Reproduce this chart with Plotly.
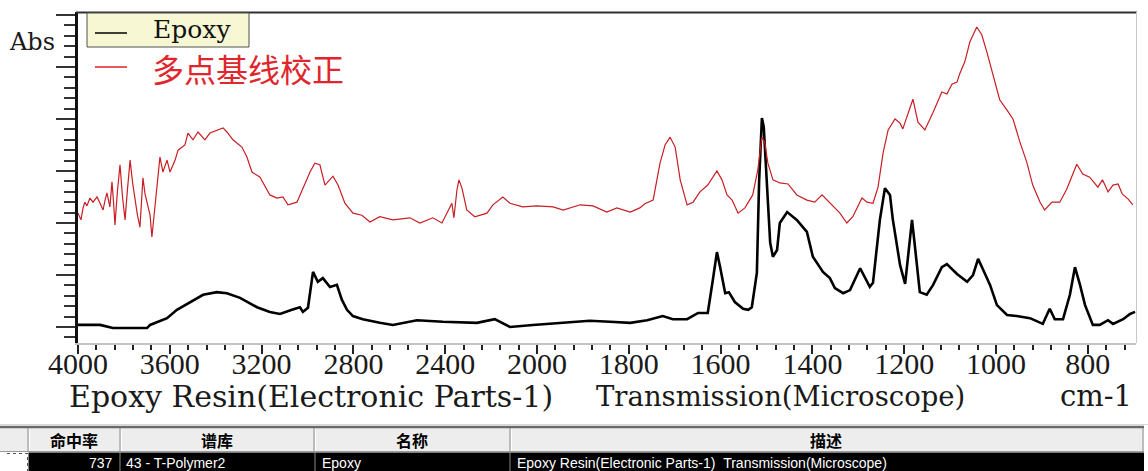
import plotly.graph_objects as go

# ---------------- data ----------------
epoxy_wn = [4000, 3904, 3848, 3699, 3686, 3612, 3569, 3512, 3455, 3395, 3351, 3294, 3220, 3164, 3120,
            3068, 3033, 3020, 2998, 2976, 2955, 2933, 2902, 2872, 2850, 2828, 2802, 2759, 2728, 2685,
            2628, 2523, 2410, 2262, 2184, 2118, 2018, 1950, 1885, 1841, 1797, 1760, 1732, 1726, 1704,
            1673, 1649, 1628, 1617, 1608, 1601, 1590, 1582, 1569, 1551, 1540, 1532, 1521, 1516, 1510,
            1506, 1499, 1492, 1486, 1477, 1471, 1455, 1434, 1412, 1399, 1377, 1362, 1351, 1333, 1318,
            1296, 1275, 1268, 1253, 1242, 1231, 1225, 1209, 1198, 1188, 1183, 1177, 1166, 1151, 1137,
            1118, 1107, 1085, 1063, 1050, 1039, 1029, 1013, 998, 976, 955, 926, 898, 883, 872,
            854, 839, 828, 817, 806, 789, 774, 756, 745, 723, 708, 697]
epoxy_abs = [0.004, 0.004, -0.002, -0.002, 0.004, 0.017, 0.033, 0.048, 0.062, 0.067, 0.065, 0.056, 0.038, 0.029, 0.025,
             0.033, 0.038, 0.029, 0.037, 0.106, 0.087, 0.094, 0.077, 0.081, 0.052, 0.033, 0.021, 0.015, 0.012, 0.008,
             0.004, 0.013, 0.010, 0.008, 0.015, 0.000, 0.004, 0.008, 0.012, 0.010, 0.008, 0.013, 0.019, 0.021, 0.015,
             0.015, 0.027, 0.027, 0.090, 0.144, 0.115, 0.065, 0.067, 0.048, 0.035, 0.033, 0.038, 0.104, 0.283, 0.402,
             0.385, 0.263, 0.162, 0.135, 0.148, 0.200, 0.221, 0.206, 0.183, 0.135, 0.106, 0.094, 0.075, 0.065, 0.071,
             0.113, 0.077, 0.085, 0.206, 0.267, 0.254, 0.208, 0.119, 0.083, 0.158, 0.206, 0.158, 0.067, 0.062, 0.081,
             0.115, 0.121, 0.102, 0.087, 0.100, 0.131, 0.112, 0.081, 0.042, 0.023, 0.021, 0.017, 0.006, 0.035, 0.015,
             0.015, 0.062, 0.115, 0.081, 0.042, 0.004, 0.004, 0.013, 0.006, 0.015, 0.025, 0.029]

corr_wn = [4000, 3987, 3978, 3970, 3961, 3948, 3935, 3926, 3917, 3904, 3891, 3882, 3874, 3861, 3852, 3845, 3839,
           3828, 3817, 3806, 3795, 3784, 3773, 3762, 3752, 3741, 3730, 3717, 3708, 3699, 3686, 3678, 3667, 3656,
           3643, 3630, 3612, 3599, 3577, 3564, 3534, 3521, 3499,
           3477, 3447, 3425, 3390, 3368, 3351, 3325, 3286, 3264, 3242, 3220, 3207, 3164, 3133, 3107,
           3085, 3046, 3020, 2989, 2968, 2946, 2924, 2889, 2867, 2837, 2802, 2763, 2728, 2685, 2628,
           2554, 2510, 2454, 2414, 2393, 2371, 2362, 2349, 2340, 2327, 2306, 2271, 2218, 2192, 2149,
           2118, 2062, 2000, 1965, 1943, 1906, 1878, 1848, 1826, 1797, 1776, 1765, 1747, 1732, 1721,
           1710, 1699, 1688, 1673, 1660, 1645, 1628, 1608, 1597, 1586, 1575, 1562, 1547, 1530, 1519,
           1510, 1504, 1497, 1486, 1471, 1453, 1434, 1412, 1395, 1379, 1362, 1340, 1325, 1312, 1292,
           1281, 1268, 1257, 1246, 1235, 1220, 1209, 1203, 1192, 1181, 1170, 1155, 1137, 1118, 1107,
           1096, 1085, 1079, 1068, 1057, 1042, 1031, 1020, 1007, 992, 976, 963, 948, 933, 920,
           904, 894, 878, 861, 846, 824, 811, 796, 778, 768, 756, 745, 734, 725, 712, 702]
corr_abs = [0.219, 0.206, 0.229, 0.240, 0.233, 0.248, 0.240, 0.246, 0.250, 0.238, 0.225, 0.244, 0.258, 0.231, 0.279,
            0.240, 0.196, 0.262, 0.312, 0.250, 0.206, 0.267, 0.321, 0.277, 0.244, 0.215, 0.192, 0.287, 0.256,
            0.238, 0.215, 0.173, 0.223, 0.277,
            0.327, 0.298, 0.321, 0.298, 0.321, 0.340, 0.350, 0.373, 0.360,
            0.375, 0.360, 0.373, 0.379, 0.383, 0.375, 0.360, 0.346, 0.327, 0.298, 0.292, 0.288, 0.254, 0.248, 0.250,
            0.235, 0.240, 0.267, 0.298, 0.315, 0.312, 0.273, 0.290, 0.273, 0.238, 0.219, 0.215, 0.202, 0.212, 0.206,
            0.210, 0.200, 0.210, 0.200, 0.219, 0.238, 0.210, 0.263, 0.283, 0.267, 0.225, 0.212, 0.219, 0.235, 0.250,
            0.238, 0.231, 0.233, 0.231, 0.225, 0.235, 0.233, 0.221, 0.229, 0.221, 0.229, 0.237, 0.244, 0.315, 0.350,
            0.365, 0.346, 0.283, 0.235, 0.240, 0.260, 0.273, 0.300, 0.283, 0.254, 0.244, 0.219, 0.229, 0.254, 0.302,
            0.365, 0.356, 0.315, 0.283, 0.277, 0.275, 0.254, 0.244, 0.240, 0.254, 0.238, 0.219, 0.200, 0.212, 0.248,
            0.240, 0.238, 0.269, 0.335, 0.379, 0.400, 0.392, 0.381, 0.408, 0.438, 0.394, 0.379, 0.413, 0.452, 0.448,
            0.467, 0.471, 0.487, 0.510, 0.548, 0.577, 0.562, 0.529, 0.485, 0.437, 0.417, 0.400, 0.356, 0.317, 0.273,
            0.240, 0.225, 0.240, 0.240, 0.265, 0.313, 0.294, 0.288, 0.269, 0.283, 0.260, 0.273, 0.275, 0.256, 0.246, 0.235]

tick_wn = [4000, 3600, 3200, 2800, 2400, 2000, 1800, 1600, 1400, 1200, 1000, 800]
tick_text = [str(t) for t in tick_wn]
minor_wn = list(range(4000, 2000, -80)) + list(range(2000, 690, -40))
abs_major = [0.0, 0.1, 0.2, 0.3, 0.4, 0.5, 0.6]
abs_minor = [round(i * 0.02, 2) for i in range(-1, 31)]

series_names = ["Epoxy", "多点基线校正"]
footer_title = ["Epoxy Resin(Electronic Parts-1)", "Transmission(Microscope)", "cm-1"]
table_header = ["命中率", "谱库", "名称", "描述"]
table_row = ["737", "43 - T-Polymer2", "Epoxy", "Epoxy Resin(Electronic Parts-1)\u00a0\u00a0Transmission(Microscope)"]


# Instrument scale: 4000-2000 cm-1 drawn at half the scale of 2000-400 cm-1
def axis_pos(w):
    return w if w <= 2000 else 2000 + (w - 2000) / 2.0


# ---------------- layout helpers (pixel -> paper) ----------------
W, H = 1148, 471
PL, PR, PT, PB = 78, 1136, 12, 343


def px(x):
    return (x - PL) / (PR - PL)


def py(y):
    return (PB - y) / (PB - PT)


fig = go.Figure()
fig.add_trace(go.Scatter(x=[axis_pos(w) for w in epoxy_wn], y=epoxy_abs, mode="lines",
                         line=dict(color="#000000", width=2.6), name=series_names[0], showlegend=False))
fig.add_trace(go.Scatter(x=[axis_pos(w) for w in corr_wn], y=corr_abs, mode="lines",
                         line=dict(color="#c81e24", width=1.2), name=series_names[1], showlegend=False))

shapes = []
# plot frame: dark top, light right
shapes.append(dict(type="line", xref="paper", yref="paper", x0=px(76), x1=px(1137), y0=py(12.5), y1=py(12.5),
                   line=dict(color="#303030", width=2)))
shapes.append(dict(type="line", xref="paper", yref="paper", x0=px(1136.5), x1=px(1136.5), y0=py(12), y1=py(343),
                   line=dict(color="#c8c8c8", width=1)))
# legend box (first entry highlighted)
shapes.append(dict(type="rect", xref="paper", yref="paper", x0=px(87), x1=px(249), y0=py(47), y1=py(13),
                   fillcolor="#f7f7d4", line=dict(color="#505050", width=1), layer="above"))
shapes.append(dict(type="line", xref="paper", yref="paper", x0=px(95), x1=px(127), y0=py(33), y1=py(33),
                   line=dict(color="#000000", width=1.5), layer="above"))
shapes.append(dict(type="line", xref="paper", yref="paper", x0=px(95), x1=px(127), y0=py(67), y1=py(67),
                   line=dict(color="#dd2228", width=1.5), layer="above"))

# ---- result table ----
shapes.append(dict(type="line", xref="paper", yref="paper", x0=px(0), x1=px(1148), y0=py(424.5), y1=py(424.5),
                   line=dict(color="#d8d8d8", width=1)))
shapes.append(dict(type="rect", xref="paper", yref="paper", x0=px(0), x1=px(1144), y0=py(451), y1=py(428),
                   fillcolor="#ededed", line=dict(width=0)))
shapes.append(dict(type="line", xref="paper", yref="paper", x0=px(0), x1=px(1144), y0=py(427), y1=py(427),
                   line=dict(color="#6a6a6a", width=2.5)))
shapes.append(dict(type="line", xref="paper", yref="paper", x0=px(0), x1=px(1144), y0=py(451.5), y1=py(451.5),
                   line=dict(color="#9a9a9a", width=1)))
for cx in [28, 120, 314, 510, 1143]:
    shapes.append(dict(type="line", xref="paper", yref="paper", x0=px(cx), x1=px(cx), y0=py(451), y1=py(428),
                       line=dict(color="#8a8a8a", width=1)))
    shapes.append(dict(type="line", xref="paper", yref="paper", x0=px(cx + 1.5), x1=px(cx + 1.5), y0=py(451), y1=py(429),
                       line=dict(color="#ffffff", width=1)))
shapes.append(dict(type="rect", xref="paper", yref="paper", x0=px(28.5), x1=px(1144), y0=py(472), y1=py(452.5),
                   fillcolor="#000000", line=dict(width=0)))
for cx in [120, 315, 510]:
    shapes.append(dict(type="line", xref="paper", yref="paper", x0=px(cx), x1=px(cx), y0=py(472), y1=py(453),
                       line=dict(color="#8a8a8a", width=1)))
shapes.append(dict(type="line", xref="paper", yref="paper", x0=px(7), x1=px(28), y0=py(453.5), y1=py(453.5),
                   line=dict(color="#555555", width=1, dash="dot")))
shapes.append(dict(type="line", xref="paper", yref="paper", x0=px(27.5), x1=px(27.5), y0=py(472), y1=py(453.5),
                   line=dict(color="#555555", width=1, dash="dot")))

annotations = []
serif = "DejaVu Serif"
annotations.append(dict(text="Abs", xref="paper", yref="paper", x=px(7), y=py(42), xanchor="left", yanchor="middle",
                        showarrow=False, font=dict(family=serif, size=24, color="#1a1a1a")))
annotations.append(dict(text=series_names[0], xref="paper", yref="paper", x=px(151), y=py(30), xanchor="left",
                        yanchor="middle", showarrow=False, font=dict(family=serif, size=25, color="#111111")))
annotations.append(dict(text=series_names[1], xref="paper", yref="paper", x=px(150), y=py(68), xanchor="left",
                        yanchor="middle", showarrow=False, font=dict(family="Noto Sans CJK SC", size=32, color="#e0262c")))
annotations.append(dict(text=footer_title[0], xref="paper", yref="paper", x=px(67), y=py(396), xanchor="left",
                        yanchor="middle", showarrow=False, font=dict(family=serif, size=30, color="#1a1a1a")))
annotations.append(dict(text=footer_title[1], xref="paper", yref="paper", x=px(594), y=py(396), xanchor="left",
                        yanchor="middle", showarrow=False, font=dict(family=serif, size=27.5, color="#1a1a1a")))
annotations.append(dict(text=footer_title[2], xref="paper", yref="paper", x=px(1134), y=py(396), xanchor="right",
                        yanchor="middle", showarrow=False, font=dict(family=serif, size=29, color="#1a1a1a")))
header_cx = [74, 217, 412, 826]
for txt, cx in zip(table_header, header_cx):
    annotations.append(dict(text="<b>" + txt + "</b>", xref="paper", yref="paper", x=px(cx), y=py(439.5),
                            xanchor="center", yanchor="middle", showarrow=False,
                            font=dict(family="Noto Sans CJK SC", size=16, color="#000000")))
row_pos = [(115, "right"), (124, "left"), (320, "left"), (515, "left")]
for txt, (cx, anc) in zip(table_row, row_pos):
    annotations.append(dict(text=txt, xref="paper", yref="paper", x=px(cx), y=py(463), xanchor=anc,
                            yanchor="middle", showarrow=False,
                            font=dict(family="Liberation Sans", size=14, color="#ffffff")))

fig.update_layout(
    width=W, height=H,
    margin=dict(l=PL, r=W - PR, t=PT, b=H - PB, pad=0),
    paper_bgcolor="#ffffff", plot_bgcolor="#ffffff",
    showlegend=False,
    shapes=shapes, annotations=annotations,
    xaxis=dict(range=[axis_pos(4000), 695], tickmode="array",
               tickvals=[axis_pos(w) for w in tick_wn], ticktext=tick_text,
               ticks="outside", ticklen=9, tickwidth=1.5, tickcolor="#222222",
               ticklabelstandoff=-16,
               showgrid=False, zeroline=False, showline=True, linecolor="#c4c4c4", linewidth=2,
               tickfont=dict(family="Liberation Serif", size=30, color="#1a1a1a"),
               minor=dict(tickmode="array", tickvals=[axis_pos(w) for w in minor_wn],
                          ticks="outside", ticklen=5, tickwidth=1.5, tickcolor="#222222", showgrid=False)),
    yaxis=dict(range=[(327 - 343) / 520, (327 - 12) / 520], tickmode="array", tickvals=abs_major,
               showticklabels=False, ticks="outside", ticklen=19, tickwidth=2, tickcolor="#333333",
               showgrid=False, zeroline=False, showline=True, linecolor="#111111", linewidth=2.5,
               minor=dict(tickmode="array", tickvals=abs_minor, ticks="outside", ticklen=11, tickwidth=2,
                          tickcolor="#333333", showgrid=False)),
)

fig.write_html("out.html", config={"displayModeBar": False},
               post_script="document.body.style.margin='0px';document.body.style.padding='0px';")
